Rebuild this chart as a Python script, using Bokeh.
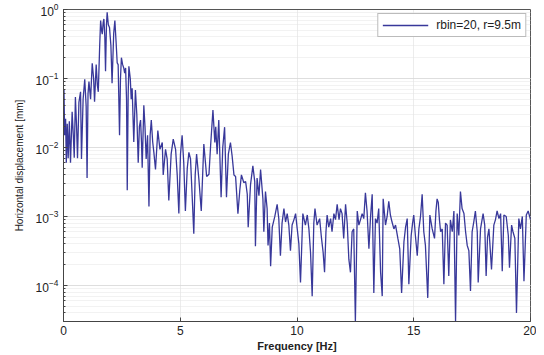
from bokeh.plotting import figure
from bokeh.embed import file_html
from bokeh.resources import INLINE
from bokeh.models import FixedTicker, LogTicker

# Frequency axis [Hz] and horizontal displacement amplitude [mm]
freq_hz = [
    0.0, 0.02, 0.05, 0.09, 0.12, 0.16, 0.2, 0.25, 0.3, 0.37, 0.42, 0.46, 0.51, 0.56, 0.6, 0.66,
    0.73, 0.77, 0.84, 0.91, 0.97, 1.01, 1.05, 1.09, 1.16, 1.23, 1.29, 1.33, 1.4, 1.45, 1.49,
    1.55, 1.59, 1.63, 1.66, 1.7, 1.73, 1.77, 1.8, 1.84, 1.87, 1.92, 1.97, 2.03, 2.08, 2.15,
    2.2, 2.25, 2.3, 2.34, 2.4, 2.44, 2.48, 2.53, 2.58, 2.62, 2.66, 2.7, 2.73, 2.77, 2.8, 2.86,
    2.9, 2.94, 3.01, 3.08, 3.14, 3.2, 3.25, 3.3, 3.34, 3.37, 3.44, 3.49, 3.54, 3.6, 3.66, 3.71,
    3.76, 3.82, 3.87,
    3.94, 4.04, 4.13, 4.23, 4.27, 4.37, 4.44, 4.51, 4.61, 4.7, 4.8, 4.87, 4.94, 5.01, 5.08,
    5.15, 5.22, 5.3, 5.37, 5.44, 5.51, 5.58, 5.64, 5.7, 5.8, 5.9, 6.01, 6.08, 6.13, 6.23, 6.3,
    6.4, 6.48, 6.52, 6.58, 6.65, 6.75, 6.82, 6.9, 6.98, 7.06, 7.15, 7.22, 7.3, 7.37, 7.47,
    7.55, 7.62, 7.72, 7.8, 7.87, 7.91,
    8.01, 8.11, 8.19, 8.22, 8.29, 8.37, 8.44, 8.54, 8.58, 8.65, 8.72, 8.76, 8.82, 8.87, 8.94,
    9.05, 9.15, 9.22, 9.29, 9.36, 9.44, 9.51, 9.58, 9.65, 9.72, 9.79, 9.87, 9.94, 10.01, 10.08,
    10.15, 10.25, 10.36, 10.44, 10.51, 10.58, 10.65, 10.72, 10.77, 10.86, 10.97, 11.05, 11.12,
    11.18, 11.24, 11.29, 11.36, 11.44, 11.5, 11.58, 11.65, 11.72, 11.8, 11.86,
    11.93, 12.0, 12.08, 12.15, 12.22, 12.29, 12.36, 12.43, 12.5, 12.58, 12.65, 12.72, 12.79,
    12.86, 12.93, 13.0, 13.08, 13.15, 13.22, 13.29, 13.36, 13.43, 13.5, 13.58, 13.65, 13.69,
    13.79, 13.86, 13.93, 14.0, 14.07, 14.15, 14.22, 14.32, 14.4, 14.48, 14.58, 14.65, 14.72,
    14.79, 14.89, 14.95, 15.0, 15.07, 15.15, 15.22, 15.29, 15.36, 15.43, 15.5, 15.6, 15.69,
    15.79, 15.89, 15.95,
    16.0, 16.05, 16.1, 16.15, 16.22, 16.29, 16.36, 16.43, 16.5, 16.57, 16.65, 16.72, 16.79,
    16.86, 16.93, 17.0, 17.07, 17.15, 17.22, 17.29, 17.36, 17.43, 17.5, 17.57, 17.64, 17.72,
    17.76, 17.86, 17.97, 18.04, 18.1, 18.16, 18.22, 18.33, 18.43, 18.5, 18.57, 18.65, 18.72,
    18.79, 18.86, 18.96, 19.05, 19.1, 19.19, 19.25, 19.33, 19.4, 19.5, 19.57, 19.65, 19.72,
    19.82, 19.9, 20.0,
]

disp_mm = [
    0.02, 0.07, 0.015, 0.026, 0.006, 0.022, 0.007, 0.024, 0.006, 0.033, 0.015, 0.0071, 0.054,
    0.02, 0.007, 0.045, 0.064, 0.0068, 0.05, 0.097, 0.04, 0.0036, 0.06, 0.09, 0.05, 0.166, 0.1,
    0.046, 0.159, 0.08, 0.064, 0.3, 0.69, 0.5, 0.44, 0.65, 0.73, 0.4, 0.127, 0.6, 0.91, 0.6,
    0.55, 0.3, 0.085, 0.45, 0.69, 0.35, 0.168, 0.159, 0.015, 0.1, 0.2, 0.16, 0.142, 0.12, 0.142,
    0.05, 0.0024, 0.06, 0.15, 0.1, 0.05, 0.072, 0.012, 0.068, 0.03, 0.006, 0.02, 0.025, 0.012,
    0.0051, 0.041, 0.02, 0.0068, 0.015, 0.0014, 0.015, 0.025, 0.012, 0.0085,
    0.0048, 0.0176, 0.0094, 0.0118, 0.004, 0.0094, 0.0068, 0.0017, 0.008, 0.0132, 0.0094,
    0.004, 0.0011, 0.008, 0.015, 0.006, 0.0012, 0.005, 0.0085, 0.0068, 0.002, 0.00056, 0.004,
    0.008, 0.0034, 0.0012, 0.0112, 0.006, 0.0038, 0.0041, 0.0106, 0.035, 0.0118, 0.02, 0.008,
    0.025, 0.0019, 0.01, 0.0197, 0.0019, 0.008, 0.0118, 0.0076, 0.004, 0.0038, 0.0011, 0.0024,
    0.004, 0.0031, 0.0032, 0.0021, 0.0007,
    0.0029, 0.0054, 0.0032, 0.00037, 0.0036, 0.002, 0.0048, 0.0018, 0.0006, 0.0023, 0.0013,
    0.00038, 0.0008, 0.00019, 0.0007, 0.001, 0.0015, 0.00093, 0.00027, 0.0008, 0.0013,
    0.00083, 0.0011, 0.00075, 0.00032, 0.00075, 0.0009, 0.0011, 0.00066, 0.0004, 0.00011,
    0.0011, 0.00075, 0.00105, 0.00066, 0.0003, 0.00007, 0.0008, 0.0013, 0.00075, 0.00093,
    0.00048, 0.0003, 0.000155, 0.0006, 0.00105, 0.0007, 0.00093, 0.0006, 0.0011, 0.0009,
    0.0015, 0.0009, 0.0013,
    0.0011, 0.00048, 0.0015, 0.0008, 0.00024, 0.000155, 0.0006, 0.00066, 0.00003, 0.0012,
    0.00075, 0.0009, 0.0011, 0.00093, 0.0022, 0.0012, 0.00034, 0.001, 0.0021, 0.000078,
    0.00093, 0.0008, 0.0013, 0.000155, 0.00007, 0.0018, 0.00075, 0.001, 0.00166, 0.00105,
    0.00083, 0.00066, 0.00075, 0.00048, 0.00034, 0.000078, 0.00043, 0.0007, 0.00093, 0.000104,
    0.00053, 0.0008, 0.00105, 0.00053, 0.00027, 0.00066, 0.001, 0.0021, 0.0006, 0.00038,
    0.000066, 0.00105, 0.00066, 0.00048, 0.0012,
    0.0018, 0.0016, 0.0009, 0.0006, 0.00066, 0.000104, 0.0008, 0.00075, 0.000137, 0.00089,
    0.0006, 0.0012, 0.00003, 0.0011, 0.00053, 0.0023, 0.0013, 0.0011, 0.0006, 0.00038,
    0.00032, 0.000083, 0.0006, 0.00083, 0.0012, 0.0006, 0.00011, 0.00066, 0.0011, 0.00075,
    0.000137, 0.0005, 0.00066, 0.00017, 0.00075, 0.0009, 0.0012, 0.00093, 0.0011, 0.00016,
    0.00105, 0.001, 0.00053, 0.00018, 0.00075, 0.0006, 0.00048, 0.00004, 0.00093, 0.00066,
    0.001, 0.000115, 0.00105, 0.0012, 0.0009,
]

x_ticks = [0, 5, 10, 15, 20]
legend_label = "rbin=20, r=9.5m"

FONT = "Liberation Sans"

p = figure(width=536, height=354, output_backend="svg", toolbar_location=None,
           x_range=(0, 20), y_range=(3e-5, 1), y_axis_type="log",
           min_border_left=63, min_border_right=6, min_border_top=9, min_border_bottom=4)

p.line(freq_hz, disp_mm, line_color="#38389a", line_width=1.3, legend_label=legend_label)

p.xaxis.ticker = FixedTicker(ticks=x_ticks)
p.yaxis.ticker = LogTicker(num_minor_ticks=10)

for ax in (p.xaxis[0], p.yaxis[0]):
    ax.major_tick_in = 4
    ax.major_tick_out = 0
    ax.minor_tick_in = 2
    ax.minor_tick_out = 0
    ax.axis_line_color = "#444444"
    ax.major_tick_line_color = "#444444"
    ax.minor_tick_line_color = "#444444"
    ax.major_label_text_font = FONT
    ax.major_label_text_font_size = "12px"
    ax.major_label_text_color = "#222222"
    ax.axis_label_text_font = FONT
    ax.axis_label_text_font_size = "10px"
    ax.axis_label_text_font_style = "normal"
    ax.axis_label_text_color = "#222222"

p.xaxis.axis_label = "Frequency [Hz]"
p.xaxis.axis_label_text_font_style = "bold"
p.xaxis.axis_label_text_font_size = "11px"
p.xaxis.axis_label_standoff = 2
p.xaxis.major_label_standoff = 4
p.xaxis.minor_tick_in = 0
p.yaxis.axis_label = "Horizontal displacement [mm]"
p.yaxis.axis_label_standoff = 8
p.yaxis.major_label_standoff = 5

p.xgrid.grid_line_color = "#d8d8d8"
p.xgrid.grid_line_dash = "1 1"
p.ygrid.grid_line_color = "#d0d0d0"
p.ygrid.grid_line_dash = "1 1"
p.ygrid.minor_grid_line_color = "#e4e4e4"
p.ygrid.minor_grid_line_dash = "1 1"

p.outline_line_color = "#555555"
p.outline_line_width = 1

p.legend.location = "top_right"
p.legend.label_text_font = FONT
p.legend.label_text_font_size = "12px"
p.legend.label_text_color = "#222222"
p.legend.border_line_color = "#777777"
p.legend.glyph_width = 46
p.legend.glyph_height = 10
p.legend.padding = 4
p.legend.margin = 4
p.legend.spacing = 0
p.legend.label_standoff = 8

open("out.html", "w").write(file_html(p, INLINE))
